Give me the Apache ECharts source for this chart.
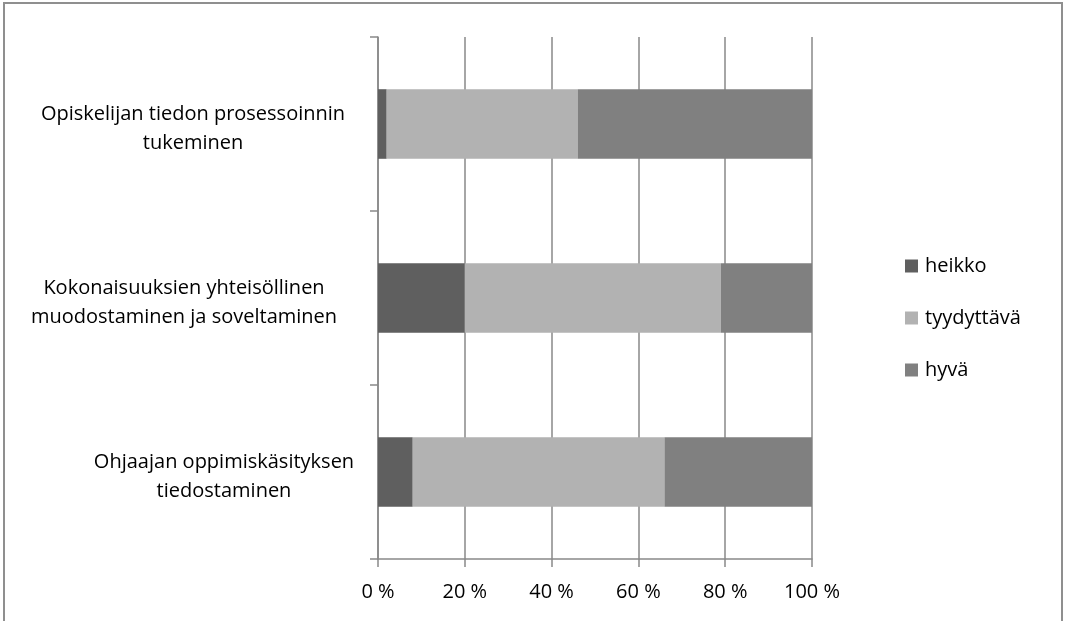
<!DOCTYPE html>
<html>
<head>
<meta charset="utf-8">
<script src="https://cdn.jsdelivr.net/npm/echarts@6/dist/echarts.min.js"></script>
<style>
  html, body { margin: 0; padding: 0; background: #fff; }
  #main { width: 1065px; height: 621px; }
</style>
</head>
<body>
<div id="main"></div>
<script>
var chart = echarts.init(document.getElementById('main'));

// kategoriat ylhäältä alas
var categories = [
  'Opiskelijan tiedon prosessoinnin\ntukeminen',
  'Kokonaisuuksien yhteisöllinen\nmuodostaminen ja soveltaminen',
  'Ohjaajan oppimiskäsityksen\ntiedostaminen'
];
var heikko = [2, 20, 8];
var tyydyttava = [44, 59, 58];
var hyva = [54, 21, 34];
var xTicks = [0, 20, 40, 60, 80, 100];

var axisGray = '#898989';
var font = '"Open Sans", sans-serif';

// pieni siirto per otsikko, jotta rivit osuvat kuten kuvassa
var labelShift = [[0, 0], [0, 18], [62, 0]];
var rich = {};
labelShift.forEach(function (p, i) {
  rich['c' + i] = { fontSize: 20, lineHeight: 29, color: '#000', fontFamily: font, padding: [0, p[1], 0, p[0]] };
});

var option = {
  animation: false,
  textStyle: { fontFamily: font },
  graphic: [{
    type: 'rect',
    shape: { x: 4, y: 3, width: 1058, height: 700 },
    style: { fill: 'none', stroke: '#8f8f8f', lineWidth: 2 },
    silent: true
  }],
  grid: { left: 378, right: 253, top: 37, bottom: 62, outerBoundsMode: 'none', containLabel: false },
  legend: {
    orient: 'vertical',
    left: 900,
    top: 251,
    itemWidth: 13,
    itemHeight: 13,
    itemGap: 32,
    icon: 'rect',
    textStyle: { fontSize: 20, lineHeight: 18, color: '#000', fontFamily: font, padding: [0, 0, 0, 2] },
    data: ['heikko', 'tyydyttävä', 'hyvä']
  },
  xAxis: {
    type: 'value',
    min: 0,
    max: 100,
    interval: 20,
    axisLine: { show: true, lineStyle: { color: axisGray, width: 1.5 } },
    axisTick: { show: true, length: 8, lineStyle: { color: axisGray, width: 1.5 } },
    splitLine: { show: true, lineStyle: { color: axisGray, width: 1.5 } },
    axisLabel: {
      margin: 23,
      fontSize: 20,
      color: '#000',
      fontFamily: font,
      formatter: function (v) { return xTicks.indexOf(v) >= 0 ? v + ' %' : ''; }
    }
  },
  yAxis: {
    type: 'category',
    inverse: true,
    data: categories,
    axisLine: { show: true, lineStyle: { color: axisGray, width: 1.5 } },
    axisTick: { show: true, length: 8, lineStyle: { color: axisGray, width: 1.5 } },
    axisLabel: {
      margin: 185,
      align: 'center',
      fontSize: 20,
      lineHeight: 29,
      padding: [10, 0, 0, 0],
      color: '#000',
      fontFamily: font,
      rich: rich,
      formatter: function (v) {
        var i = categories.indexOf(v);
        return v.split('\n').map(function (s) { return '{c' + i + '|' + s + '}'; }).join('\n');
      }
    }
  },
  series: [
    { name: 'heikko', type: 'bar', stack: 'all', barCategoryGap: '60%', data: heikko, itemStyle: { color: '#5f5f5f' } },
    { name: 'tyydyttävä', type: 'bar', stack: 'all', data: tyydyttava, itemStyle: { color: '#b2b2b2' } },
    { name: 'hyvä', type: 'bar', stack: 'all', data: hyva, itemStyle: { color: '#808080' } }
  ]
};
chart.setOption(option);
</script>
</body>
</html>
